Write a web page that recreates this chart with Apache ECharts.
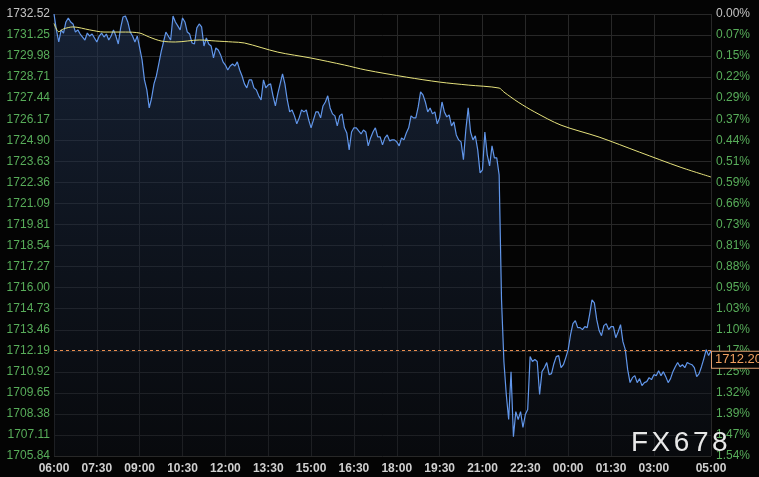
<!DOCTYPE html>
<html><head><meta charset="utf-8">
<script src="https://cdn.jsdelivr.net/npm/echarts@6/dist/echarts.min.js"></script>
<style>html,body{margin:0;padding:0;background:#040404;}#c{width:759px;height:477px;}</style>
</head><body><div id="c"></div>
<script>
// ---- tick labels ----
const priceLabels = ["1732.52","1731.25","1729.98","1728.71","1727.44","1726.17","1724.90","1723.63","1722.36","1721.09","1719.81","1718.54","1717.27","1716.00","1714.73","1713.46","1712.19","1710.92","1709.65","1708.38","1707.11","1705.84"];
const pctLabels = ["0.00%","0.07%","0.15%","0.22%","0.29%","0.37%","0.44%","0.51%","0.59%","0.66%","0.73%","0.81%","0.88%","0.95%","1.03%","1.10%","1.17%","1.25%","1.32%","1.39%","1.47%","1.54%"];
const timeLabels = ["06:00","07:30","09:00","10:30","12:00","13:30","15:00","16:30","18:00","19:30","21:00","22:30","00:00","01:30","03:00","05:00"];

// ---- categories: 5-minute slots from 06:00 to 05:00 next day ----
const startMinute = 6 * 60, stepMinutes = 5, slotCount = 277;
const categories = [];
for (let i = 0; i < slotCount; i++) {
  const m = (startMinute + i * stepMinutes) % 1440;
  categories.push(String(Math.floor(m / 60)).padStart(2, "0") + ":" + String(m % 60).padStart(2, "0"));
}

// ---- price series (one value per 5 minutes) ----
const price = [
1732.52,1731.56,1730.83,1731.56,1731.37,1732.04,1732.28,1732.04,1731.92,1731.43,
1731.56,1731.31,1731.13,1730.95,1731.37,1731.19,1731.31,1731.07,1730.83,1731.19,
1731.37,1731.13,1731.31,1730.95,1731.19,1731.56,1731.19,1730.71,1731.68,1732.34,
1732.40,1732.04,1731.43,1731.19,1730.83,1731.19,1730.47,1729.75,1728.54,1727.94,
1726.85,1727.45,1728.30,1728.78,1729.50,1730.23,1730.83,1731.43,1731.19,1730.95,
1732.40,1732.04,1731.80,1731.56,1732.28,1732.04,1731.43,1731.31,1730.77,1730.71,
1731.68,1731.92,1731.74,1730.59,1731.07,1730.71,1730.59,1729.87,1730.47,1730.35,
1730.05,1729.63,1729.44,1729.14,1729.38,1729.50,1729.38,1729.63,1729.14,1728.78,
1728.30,1728.06,1728.54,1728.54,1728.06,1727.94,1727.58,1727.33,1728.54,1728.06,
1728.24,1728.30,1727.58,1726.97,1727.70,1728.30,1728.90,1728.30,1727.33,1726.61,
1726.73,1726.37,1725.89,1726.25,1726.73,1726.61,1726.73,1726.13,1725.65,1726.13,
1726.61,1726.61,1726.25,1726.97,1727.21,1727.58,1726.85,1726.49,1726.37,1725.77,
1726.37,1726.49,1725.65,1725.34,1724.32,1725.40,1725.65,1725.65,1725.46,1725.28,
1725.52,1725.40,1724.56,1725.04,1725.40,1725.65,1725.10,1725.10,1724.62,1725.04,
1725.22,1724.86,1724.92,1724.92,1724.80,1724.56,1725.04,1724.92,1725.34,1725.65,
1726.37,1726.25,1726.25,1726.91,1727.82,1727.64,1727.21,1726.61,1726.85,1726.49,
1726.61,1725.89,1726.25,1727.21,1726.61,1726.31,1726.43,1725.77,1726.01,1725.22,
1724.92,1724.80,1723.72,1725.52,1726.85,1725.40,1724.92,1725.16,1724.32,1722.93,
1723.11,1725.40,1724.02,1723.35,1724.56,1723.84,1723.84,1722.81,1715.27,1711.54,
1709.55,1708.04,1710.93,1707.01,1708.52,1708.04,1708.52,1707.56,1708.34,1708.64,
1711.84,1711.54,1711.66,1711.54,1709.55,1710.93,1711.17,1711.48,1710.75,1710.81,
1711.41,1711.84,1711.90,1711.17,1711.35,1711.78,1712.26,1713.16,1713.83,1714.01,
1713.59,1713.59,1713.47,1713.65,1713.59,1714.37,1715.27,1715.09,1714.07,1713.41,
1713.10,1713.71,1713.83,1713.47,1713.65,1713.65,1712.98,1713.34,1713.77,1712.74,
1712.26,1711.05,1710.27,1710.57,1710.69,1710.27,1710.51,1710.09,1710.27,1710.33,
1710.57,1710.45,1710.75,1710.69,1710.99,1710.69,1710.93,1710.63,1710.27,1710.51,
1710.93,1711.23,1711.48,1711.23,1711.35,1711.17,1711.48,1711.41,1711.35,1711.17,
1710.63,1710.81,1711.23,1711.72,1712.26,1711.90,1712.20
];

// ---- moving-average line ----
const maTimes = ["06:00","06:10","06:20","06:40","07:15","07:45","08:30","09:00","09:20","09:45","10:15","11:05","11:40","12:15","12:40","13:50","15:00","16:10","16:55","18:20","19:30","20:30","21:35","21:45","22:15","22:50","23:45","01:05","02:30","03:55","05:00"];
const maValues = [1731.95,1731.45,1731.62,1731.74,1731.56,1731.43,1731.43,1731.37,1731.13,1730.89,1730.83,1730.95,1730.89,1730.83,1730.77,1730.22,1729.86,1729.44,1729.14,1728.71,1728.41,1728.23,1728.05,1727.81,1727.20,1726.60,1725.81,1725.09,1724.18,1723.28,1722.68];

const lastPrice = 1712.20;
const watermark = "FX678";

const FONT = "'Liberation Sans', Arial, sans-serif";
const tickValues = priceLabels.map(Number);
const yMin = Math.min(...tickValues), yMax = Math.max(...tickValues);
const idxOf = v => priceLabels.findIndex(s => Math.abs(Number(s) - v) < 0.005);
const showTime = (i, v) => timeLabels.indexOf(v) >= 0 && !(v === "05:00" && i !== slotCount - 1) && !(v === "06:00" && i !== 0);

const chart = echarts.init(document.getElementById('c'), null, {renderer: 'canvas'});
const wmX = [631, 651.6, 673.8, 692.9, 712];
chart.setOption({
  backgroundColor: '#040404',
  animation: false,
  grid: {left: 54, right: 48, top: 14, bottom: 21, containLabel: false},
  xAxis: {
    type: 'category', data: categories, boundaryGap: false,
    axisLine: {show: false}, axisTick: {show: false},
    axisLabel: {interval: showTime, color: '#cfcfcf', fontSize: 12, fontWeight: 'bold', fontFamily: FONT, margin: 7, hideOverlap: false, showMinLabel: true, showMaxLabel: true},
    splitLine: {show: true, interval: showTime, lineStyle: {color: '#282828', width: 1}}
  },
  yAxis: [{
    type: 'value', position: 'left', min: yMin, max: yMax, scale: true,
    axisLine: {show: false},
    axisTick: {show: false, customValues: tickValues},
    axisLabel: {customValues: tickValues, margin: 4, fontSize: 12, fontFamily: FONT,
      color: v => (Math.abs(v - yMax) < 0.005 ? '#c4c4c4' : '#58ad5a'),
      formatter: v => { const k = idxOf(v); return k >= 0 ? priceLabels[k] : ''; }},
    splitLine: {show: true, lineStyle: {color: '#282828', width: 1}}
  }, {
    type: 'value', position: 'right', min: yMin, max: yMax, scale: true,
    axisLine: {show: false},
    axisTick: {show: false, customValues: tickValues},
    axisLabel: {customValues: tickValues, margin: 5, fontSize: 12, fontFamily: FONT,
      color: v => (Math.abs(v - yMax) < 0.005 ? '#c4c4c4' : '#58ad5a'),
      formatter: v => { const k = idxOf(v); return k >= 0 ? pctLabels[k] : ''; }},
    splitLine: {show: false}
  }],
  series: [{
    type: 'line', data: price, showSymbol: false, symbol: 'none',
    lineStyle: {color: '#6196ea', width: 1.2},
    areaStyle: {origin: 'start', color: new echarts.graphic.LinearGradient(0, 0, 0, 1, [
      {offset: 0, color: 'rgba(36,56,90,0.8)'},
      {offset: 1, color: 'rgba(14,18,26,0.6)'}
    ])},
    markLine: {
      silent: true, symbol: 'none',
      lineStyle: {color: '#e88d4e', type: [3, 3], width: 1},
      label: {position: 'end', formatter: lastPrice.toFixed(2), color: '#f0a060', fontSize: 13, fontFamily: FONT,
        backgroundColor: '#040404', borderColor: '#e0a070', borderWidth: 1, padding: [2, 2, 1, 3], distance: 1, offset: [0, 9]},
      data: [{yAxis: lastPrice}]
    },
    z: 2
  }, {
    type: 'line', data: maTimes.map((t, i) => [t, maValues[i]]), showSymbol: false, symbol: 'none', smooth: 0.3,
    lineStyle: {color: '#e6e27c', width: 1}, z: 3
  }],
  graphic: watermark.split('').map((ch, i) => ({
    type: 'text', left: wmX[i], top: 429, z: 100, silent: true,
    style: {text: ch, fill: '#e8e8e8', font: '28px ' + FONT}
  }))
});
</script></body></html>
